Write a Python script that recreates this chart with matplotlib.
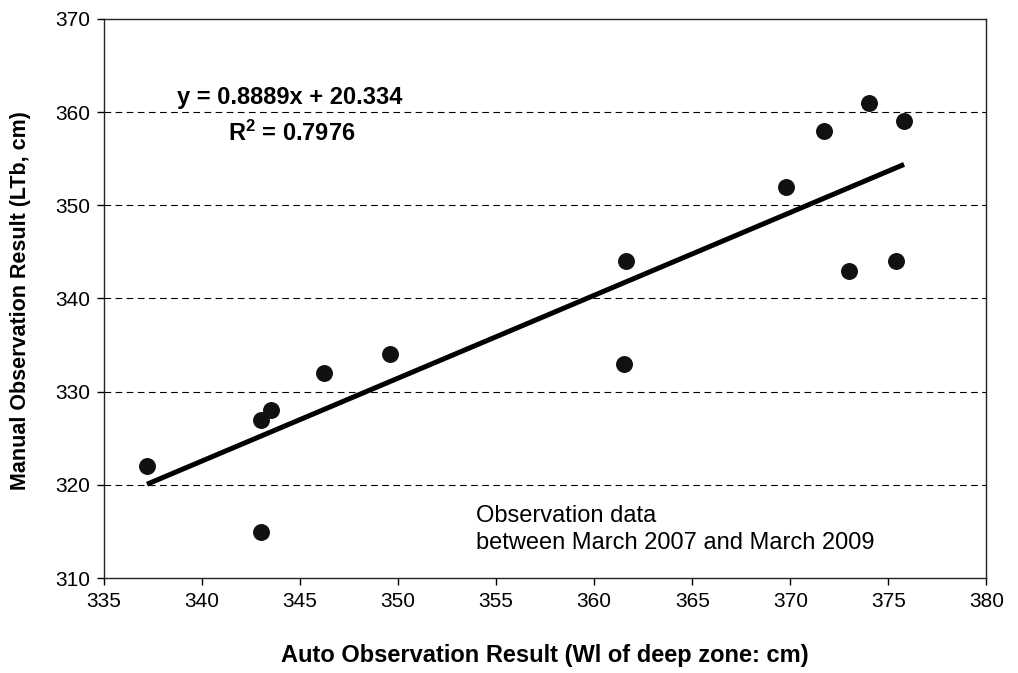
import numpy as np
import matplotlib
matplotlib.use("Agg")
import matplotlib.pyplot as plt

plt.rcParams['font.family'] = ['Liberation Sans', 'DejaVu Sans']
plt.rcParams['mathtext.fontset'] = 'custom'
plt.rcParams['mathtext.rm'] = 'Liberation Sans'
plt.rcParams['mathtext.bf'] = 'Liberation Sans:bold'

# observation pairs (auto WL vs manual LTb), cm
auto_wl = [337.2, 343.0, 343.0, 343.5, 346.2, 349.6, 361.6, 361.5,
           369.8, 371.7, 374.0, 375.8, 373.0, 375.4]
manual_ltb = [322, 315, 327, 328, 332, 334, 344, 333,
              352, 358, 361, 359, 343, 344]

# linear trend as reported
slope = 0.8889
intercept = 20.334
r2 = 0.7976

x_ticks = [335, 340, 345, 350, 355, 360, 365, 370, 375, 380]
y_ticks = [310, 320, 330, 340, 350, 360, 370]

fig = plt.figure(figsize=(10.18, 6.73), dpi=100)
ax = fig.add_axes([0.102, 0.141, 0.867, 0.831])

for yv in y_ticks[1:-1]:
    ax.axhline(yv, color='black', lw=0.8, ls=(0, (6, 4)), zorder=1)

xs = np.array([min(auto_wl), max(auto_wl)])
ax.plot(xs, slope * xs + intercept, color='black', lw=3.6,
        solid_capstyle='butt', zorder=2)

ax.scatter(auto_wl, manual_ltb, s=125, color='#111111', zorder=3)

ax.set_xlim(335, 380)
ax.set_ylim(310, 370)
ax.set_xticks(x_ticks)
ax.set_yticks(y_ticks)
ax.tick_params(axis='both', direction='out', length=5, width=1,
               labelsize=15, pad=5)
for sp in ax.spines.values():
    sp.set_linewidth(1.0)
    sp.set_color('#222222')

ax.set_xlabel('Auto Observation Result (Wl of deep zone: cm)',
              fontsize=17, fontweight='bold')
ax.set_ylabel('Manual Observation Result (LTb, cm)',
              fontsize=15.5, fontweight='bold')
ax.xaxis.set_label_coords(0.5, -0.118)
ax.yaxis.set_label_coords(-0.082, 0.497)

ax.text(344.5, 361.6, 'y = %.4fx + %.3f' % (slope, intercept),
        ha='center', va='center', fontsize=17, fontweight='bold')
ax.text(344.6, 357.7, '$\\mathbf{R^2}$ = %.4f' % r2,
        ha='center', va='center', fontsize=17, fontweight='bold')

ax.text(354.0, 315.2, 'Observation data\nbetween March 2007 and March 2009',
        ha='left', va='center', fontsize=17, linespacing=1.3)

fig.savefig('out.png', dpi=100)
